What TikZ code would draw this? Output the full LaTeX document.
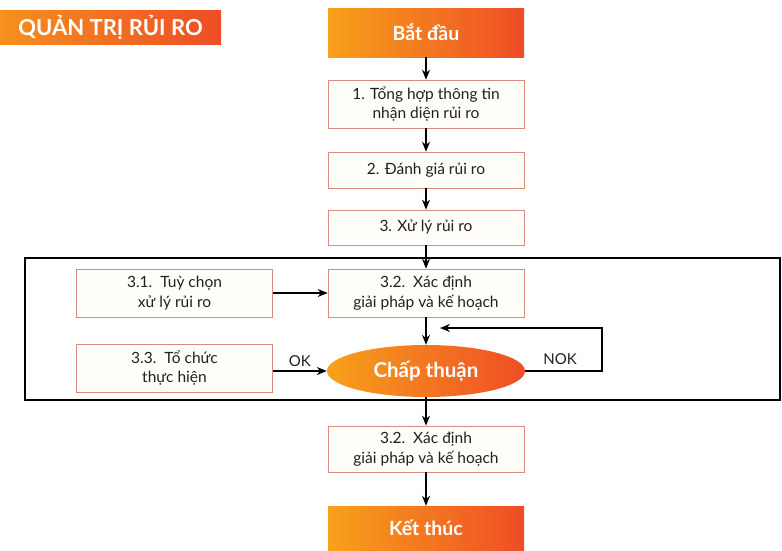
\documentclass[tikz,border=0pt]{standalone}
\usepackage{fontspec}
\setmainfont{Lato}
\usepackage{tikz}
\usetikzlibrary{arrows.meta, positioning, shapes.geometric}
\definecolor{hotleft}{HTML}{F8A11C}
\definecolor{hotright}{HTML}{EE4D25}
\definecolor{boxfill}{HTML}{FFFEF9}
\definecolor{boxline}{HTML}{D98A83}
\definecolor{ink}{HTML}{231F20}

\begin{document}
\begin{tikzpicture}[
    x=1pt, y=-1pt,
    procbox/.style={draw=boxline, line width=0.7pt, fill=boxfill, minimum width=196pt, minimum height=48pt, inner sep=0pt, align=center, text=ink, font=\fontsize{15.5}{19.5}\selectfont},
    hotbox/.style={left color=hotleft, right color=hotright, draw=none, minimum width=196pt, minimum height=48pt, inner sep=0pt, text=white, font=\fontsize{19.5}{22}\selectfont\bfseries},
    flow/.style={-{Stealth[length=10pt, width=8pt]}, line width=1.2pt, black},
    tag/.style={font=\fontsize{15}{17}\selectfont, text=ink},
]
  \useasboundingbox (0,0) rectangle (782,550);

  % heading
  \node[hotbox, left color=hotleft!80!hotright, minimum width=221pt, minimum height=34pt, font=\fontsize{22}{24}\selectfont\bfseries] (title) at (110.5,27) {QUẢN TRỊ RỦI RO};

  % main column
  \node[hotbox, minimum height=49pt] (start) at (426,32.5) {Bắt đầu};
  \node[procbox] (s1) at (426,104) {1. Tổng hợp thông tin\\nhận diện rủi ro};
  \node[procbox, minimum height=36pt] (s2) at (426,170) {2. Đánh giá rủi ro};
  \node[procbox, minimum height=35pt] (s3) at (426,227.5) {3. Xử lý rủi ro};

  % step 3 frame
  \draw[line width=1.2pt] (25,258) rectangle (780,400);
  \node[procbox] (opt) at (174.5,293) {3.1.\ \ Tuỳ chọn\\xử lý rủi ro};
  \node[procbox] (plan) at (426,293) {3.2.\ \ Xác định\\giải pháp và kế hoạch};
  \node[procbox] (org) at (174.5,368) {3.3.\ \ Tổ chức\\thực hiện};
  \node[ellipse, left color=hotleft, right color=hotright, minimum width=198pt, minimum height=52pt, inner sep=0pt, text=white, font=\fontsize{20.5}{23}\selectfont\bfseries] (approve) at (426,371) {Chấp thuận};

  \node[procbox, minimum height=46pt] (plan2) at (426,449) {3.2.\ \ Xác định\\giải pháp và kế hoạch};
  \node[hotbox, minimum height=44pt] (finish) at (426,528) {Kết thúc};

  \coordinate (nokturn) at (602,328);
  \coordinate (loopin) at (440,328);

  \draw[flow] (start) -- (s1);
  \draw[flow] (s1) -- (s2);
  \draw[flow] (s2) -- (s3);
  \draw[flow] (s3) -- (plan);
  \draw[flow] (opt) -- (plan);
  \draw[flow] (plan) -- (approve);
  \draw[flow] (org.east |- approve) -- node[tag, above] {OK} (approve.west);
  \draw[flow] (approve.east) -| (nokturn) -- (loopin);
  \node[tag] (nok) at (560,359) {NOK};
  \draw[flow] (approve) -- (plan2);
  \draw[flow] (plan2) -- (finish);
\end{tikzpicture}
\end{document}
